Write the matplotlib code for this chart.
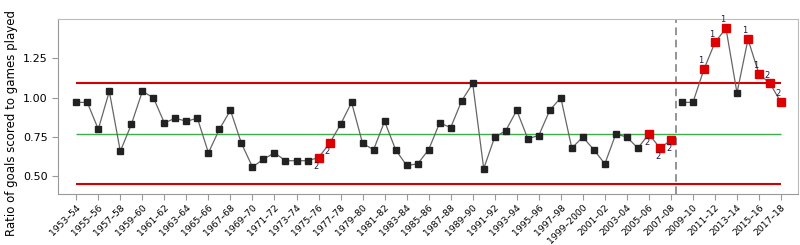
import matplotlib
matplotlib.use("Agg")
import matplotlib.pyplot as plt

# seasons 1953-54 .. 2017-18
seasons = []
for y in range(1953, 2018):
    nxt = y + 1
    if nxt % 100 == 0:
        seasons.append(f"{y}\u2013{nxt}")
    else:
        seasons.append(f"{y}\u2013{nxt % 100:02d}")

ratio = [0.97, 0.97, 0.80, 1.04, 0.66, 0.83, 1.04, 1.00, 0.84, 0.87,
         0.85, 0.87, 0.65, 0.80, 0.92, 0.71, 0.56, 0.61, 0.65, 0.60,
         0.60, 0.60, 0.62, 0.71, 0.83, 0.97, 0.71, 0.67, 0.85, 0.67,
         0.57, 0.58, 0.67, 0.84, 0.81, 0.98, 1.09, 0.55, 0.75, 0.79,
         0.92, 0.74, 0.76, 0.92, 1.00, 0.68, 0.75, 0.67, 0.58, 0.77,
         0.75, 0.68, 0.77, 0.68, 0.73, 0.97, 0.97, 1.18, 1.35, 1.44,
         1.03, 1.37, 1.15, 1.09, 0.97]

# out-of-control points and the rule number that flagged them
flag_idx = [22, 23, 52, 53, 54, 57, 58, 59, 61, 62, 63, 64]
flag_rule = ["2", "2", "2", "2", "2", "1", "1", "1", "1", "1", "2", "2"]

ucl = 1.095
cl = 0.768
lcl = 0.450
phase_start = 55  # 2008-09

x = list(range(len(seasons)))

fig = plt.figure(figsize=(8, 2.45), dpi=100)
ax = fig.add_axes([0.0729, 0.2069, 0.925, 0.7143])

ax.hlines([ucl, lcl], 0, x[-1], colors="#d40000", lw=1.5, zorder=2)
ax.hlines(cl, 0, x[-1], colors="#3cae4a", lw=1.0, zorder=2)
ax.axvline(phase_start - 0.5, color="#777777", lw=1.1, ls=(0, (5, 3)), zorder=1)

# two phases drawn as separate lines
for a, b in [(0, phase_start), (phase_start, len(x))]:
    ax.plot(x[a:b], ratio[a:b], color="#666666", lw=0.9, zorder=3,
            marker="s", ms=3.7, mfc="#222222", mec="#222222")

ax.plot([x[i] for i in flag_idx], [ratio[i] for i in flag_idx], ls="none",
        marker="s", ms=5.3, mfc="#dd0000", mec="#dd0000", zorder=4)

for i, r in zip(flag_idx, flag_rule):
    if i < phase_start:
        ax.text(x[i] - 0.2, ratio[i] - 0.025, r, fontsize=6, ha="center",
                va="top", color="#1a1a40", zorder=5)
    else:
        ax.text(x[i] - 0.3, ratio[i] + 0.025, r, fontsize=6, ha="center",
                va="bottom", color="#1a1a40", zorder=5)

ax.set_xlim(-1.63, 65.57)
ax.set_ylim(0.387, 1.497)
ax.set_yticks([0.50, 0.75, 1.00, 1.25])
ax.set_yticklabels(["0.50", "0.75", "1.00", "1.25"], fontsize=8)
ax.set_xticks(x[::2])
ax.set_xticklabels(seasons[::2], rotation=45, ha="right", rotation_mode="anchor",
                   fontsize=6.7)
ax.tick_params(axis="both", colors="#999999", labelcolor="black", length=4, width=0.8)
ax.tick_params(axis="x", pad=2)

for s in ["left", "bottom"]:
    ax.spines[s].set_color("#999999")
for s in ["top", "right"]:
    ax.spines[s].set_color("#bbbbbb")

fig.text(0.015, 0.5, "Ratio of goals scored to games played", rotation=90,
         ha="center", va="center", fontsize=8.5)

fig.savefig("out.png", dpi=100)
